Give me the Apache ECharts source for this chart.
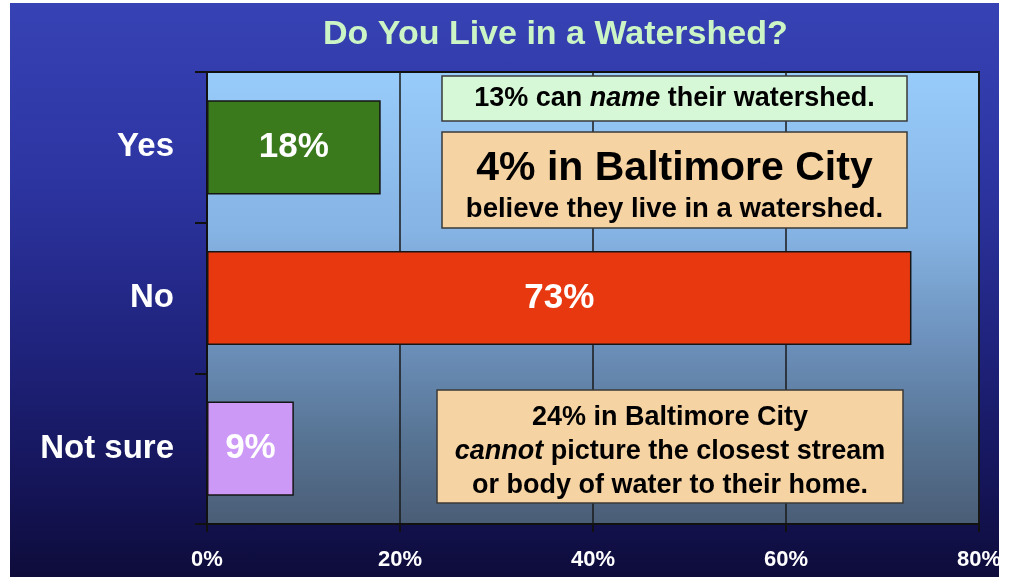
<!DOCTYPE html>
<html>
<head>
<meta charset="utf-8">
<script src="https://cdn.jsdelivr.net/npm/echarts@6/dist/echarts.min.js"></script>
<style>
  html, body { margin: 0; padding: 0; background: #ffffff; }
  #wrap { position: relative; width: 1009px; height: 577px; overflow: hidden; }
  #bg { position: absolute; left: 10px; top: 3px; width: 989px; height: 574px;
        background: linear-gradient(to bottom, #3742b4 0%, #2d35a2 30%, #1f237c 60%, #141457 85%, #0e0c3a 100%); }
  #chart { position: absolute; left: 0; top: 0; width: 1009px; height: 577px; }
  #rmask { position: absolute; left: 999px; top: 0; width: 10px; height: 577px; background: #fff; }
</style>
</head>
<body>
<div id="wrap">
  <div id="bg"></div>
  <div id="chart"></div>
  <div id="rmask"></div>
</div>
<script>
const titleText = 'Do You Live in a Watershed?';
const categories = ['Yes', 'No', 'Not sure'];
const values = [18, 73, 9];
const barColors = ['#3a7a1d', '#e8380f', '#cc99f7'];
const axisMin = 0, axisMax = 80, axisStep = 20;
const note1 = '{b|13% can }{i|name}{b| their watershed.}';
const note2 = '{big|4% in Baltimore City}\n{s|believe they live in a watershed.}';
const note3 = '{b|24% in Baltimore City}\n{i|cannot}{b| picture the closest stream}\n{b|or body of water to their home.}';

const FF = '"Liberation Sans", Arial, Helvetica, sans-serif';
const chart = echarts.init(document.getElementById('chart'), null, { renderer: 'canvas' });

function textStyle(size, italic, lh) {
  return { fontFamily: FF, fontWeight: 'bold', fontStyle: italic ? 'italic' : 'normal', fontSize: size, fill: '#000', lineHeight: lh || size + 4 };
}

chart.setOption({
  backgroundColor: 'transparent',
  animation: false,
  title: {
    text: titleText, left: 318, top: 13,
    textStyle: { color: '#ccf5c6', fontSize: 34, fontWeight: 'bold', fontFamily: FF }
  },
  grid: {
    left: 207, right: 30, top: 72, bottom: 53, show: true,
    borderColor: '#111', borderWidth: 2,
    backgroundColor: new echarts.graphic.LinearGradient(0, 0, 0, 1, [
      { offset: 0, color: '#98ccfa' },
      { offset: 0.35, color: '#86b4e4' },
      { offset: 0.6, color: '#6c90bb' },
      { offset: 0.8, color: '#587595' },
      { offset: 1, color: '#4a5d76' }
    ])
  },
  xAxis: {
    type: 'value', min: axisMin, max: axisMax, interval: axisStep,
    axisLine: { show: true, lineStyle: { color: '#111', width: 2 } },
    axisTick: { show: true, length: 8, lineStyle: { color: '#111', width: 2 } },
    splitLine: { show: true, lineStyle: { color: '#1a1a1a', width: 1.5 } },
    axisLabel: { formatter: '{value}%', color: '#fff', fontSize: 22, fontWeight: 'bold', fontFamily: FF, margin: 25 }
  },
  yAxis: {
    type: 'category', data: categories, inverse: true,
    axisLine: { show: true, lineStyle: { color: '#111', width: 2 } },
    axisTick: { show: true, length: 12, lineStyle: { color: '#111', width: 2 } },
    axisLabel: { color: '#fff', fontSize: 33, fontWeight: 'bold', fontFamily: FF, margin: 33 }
  },
  series: [{
    type: 'bar',
    barCategoryGap: '37.5%',
    data: values.map((v, i) => ({ value: v, itemStyle: { color: barColors[i] } })),
    itemStyle: { borderColor: '#151515', borderWidth: 1.5 },
    label: {
      show: true, position: 'inside', formatter: '{c}%',
      color: '#fff', fontSize: 35, fontWeight: 'bold', fontFamily: FF
    }
  }],
  graphic: [
    { type: 'rect', z: 100, shape: { x: 442, y: 76, width: 465, height: 45 },
      style: { fill: '#d6f8d6', stroke: '#3a3a3a', lineWidth: 1.5 } },
    { type: 'text', z: 101, x: 674.5, y: 99,
      style: { text: note1, align: 'center', verticalAlign: 'middle',
        rich: { b: textStyle(27, false), i: textStyle(27, true) } } },
    { type: 'rect', z: 100, shape: { x: 442, y: 132, width: 465, height: 96 },
      style: { fill: '#f6d3a3', stroke: '#3a3a3a', lineWidth: 1.5 } },
    { type: 'text', z: 101, x: 674.5, y: 187,
      style: { text: note2, align: 'center', verticalAlign: 'middle',
        rich: { big: textStyle(41, false, 44), s: textStyle(27.5, false, 36) } } },
    { type: 'rect', z: 100, shape: { x: 437, y: 390, width: 466, height: 113 },
      style: { fill: '#f6d3a3', stroke: '#3a3a3a', lineWidth: 1.5 } },
    { type: 'text', z: 101, x: 670, y: 452,
      style: { text: note3, align: 'center', verticalAlign: 'middle',
        rich: { b: textStyle(27, false, 34), i: textStyle(27, true, 34) } } }
  ]
});
</script>
</body>
</html>
